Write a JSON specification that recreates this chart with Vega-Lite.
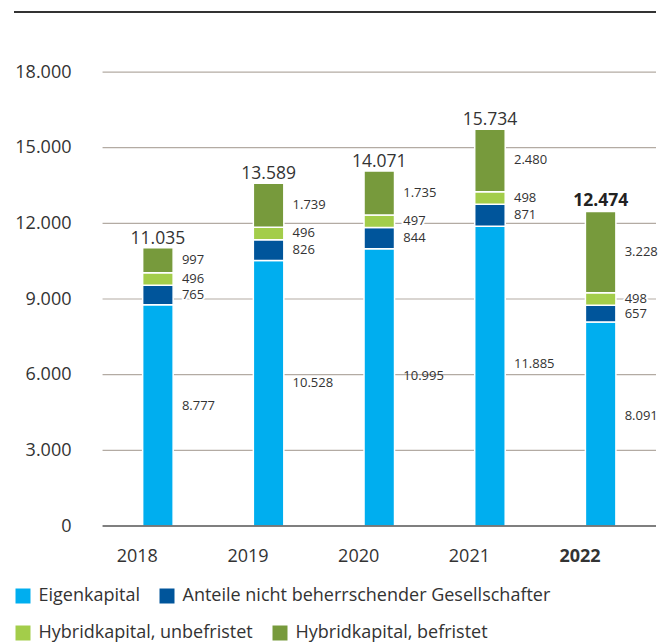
{
  "$schema": "https://vega.github.io/schema/vega-lite/v6.json",
  "width": 642,
  "height": 514,
  "autosize": {"type": "none"},
  "padding": {"left": 14, "top": 12, "right": 12, "bottom": 118},
  "config": {
    "font": "Open Sans",
    "view": {"stroke": null},
    "locale": {"number": {"decimal": ",", "thousands": ".", "grouping": [3], "currency": ["", " €"]}},
    "legend": {
      "orient": "none", "direction": "horizontal", "title": null,
      "symbolType": "square", "symbolSize": 225, "symbolStrokeWidth": 0,
      "labelFontSize": 18, "labelColor": "#333333", "labelOffset": 6.5,
      "columnPadding": 18, "padding": 0, "labelLimit": 600
    }
  },
  "datasets": {
    "capital": [
      {"year": "2018", "cat": "Eigenkapital", "ord": 1, "value": 8777},
      {"year": "2018", "cat": "Anteile nicht beherrschender Gesellschafter", "ord": 2, "value": 765},
      {"year": "2018", "cat": "Hybridkapital, unbefristet", "ord": 3, "value": 496},
      {"year": "2018", "cat": "Hybridkapital, befristet", "ord": 4, "value": 997},
      {"year": "2019", "cat": "Eigenkapital", "ord": 1, "value": 10528},
      {"year": "2019", "cat": "Anteile nicht beherrschender Gesellschafter", "ord": 2, "value": 826},
      {"year": "2019", "cat": "Hybridkapital, unbefristet", "ord": 3, "value": 496},
      {"year": "2019", "cat": "Hybridkapital, befristet", "ord": 4, "value": 1739},
      {"year": "2020", "cat": "Eigenkapital", "ord": 1, "value": 10995},
      {"year": "2020", "cat": "Anteile nicht beherrschender Gesellschafter", "ord": 2, "value": 844},
      {"year": "2020", "cat": "Hybridkapital, unbefristet", "ord": 3, "value": 497},
      {"year": "2020", "cat": "Hybridkapital, befristet", "ord": 4, "value": 1735},
      {"year": "2021", "cat": "Eigenkapital", "ord": 1, "value": 11885},
      {"year": "2021", "cat": "Anteile nicht beherrschender Gesellschafter", "ord": 2, "value": 871},
      {"year": "2021", "cat": "Hybridkapital, unbefristet", "ord": 3, "value": 498},
      {"year": "2021", "cat": "Hybridkapital, befristet", "ord": 4, "value": 2480},
      {"year": "2022", "cat": "Eigenkapital", "ord": 1, "value": 8091},
      {"year": "2022", "cat": "Anteile nicht beherrschender Gesellschafter", "ord": 2, "value": 657},
      {"year": "2022", "cat": "Hybridkapital, unbefristet", "ord": 3, "value": 498},
      {"year": "2022", "cat": "Hybridkapital, befristet", "ord": 4, "value": 3228}
    ],
    "grid": [
      {"v": 0}, {"v": 3000}, {"v": 6000}, {"v": 9000}, {"v": 12000}, {"v": 15000}, {"v": 18000}
    ]
  },
  "layer": [
    {
      "data": {"name": "grid"},
      "transform": [{"filter": "datum.v > 0"}],
      "mark": {"type": "rule", "color": "#b3aba3", "strokeWidth": 1.2},
      "encoding": {
        "y": {
          "field": "v", "type": "quantitative",
          "scale": {"domain": [0, 20380], "nice": false, "zero": true},
          "axis": {
            "values": [0, 3000, 6000, 9000, 12000, 15000, 18000],
            "format": ",d", "grid": false, "domain": false, "ticks": false,
            "labelPadding": 0, "offset": -57, "labelFontSize": 18,
            "labelColor": "#333333", "title": null
          }
        },
        "x": {"datum": "2018", "type": "nominal", "bandPosition": 0},
        "x2": {"datum": "2022", "bandPosition": 1}
      }
    },
    {
      "data": {"values": [{}]},
      "mark": {"type": "rule", "color": "#333333", "strokeWidth": 2},
      "encoding": {"y": {"datum": 20380, "type": "quantitative"}}
    },
    {
      "data": {"name": "capital"},
      "transform": [
        {"stack": "value", "groupby": ["year"], "sort": [{"field": "ord", "order": "ascending"}], "as": ["y0", "y1"]},
        {"filter": "datum.ord <= 2"}
      ],
      "mark": {"type": "bar", "size": 30.5, "stroke": "white", "strokeWidth": 1.5},
      "encoding": {
        "x": {
          "field": "year", "type": "nominal", "sort": null,
          "scale": {"paddingInner": 0, "paddingOuter": 0.4, "align": 1},
          "axis": {
            "title": null, "domain": false, "ticks": false, "labelPadding": 30,
            "labelFontSize": 18, "labelColor": "#333333", "labelAngle": 0,
            "labelFontWeight": {"condition": {"test": "datum.value === '2022'", "value": "bold"}, "value": "normal"}
          }
        },
        "y": {"field": "y0", "type": "quantitative"},
        "y2": {"field": "y1"},
        "color": {
          "field": "cat", "type": "nominal",
          "scale": {
            "domain": ["Eigenkapital", "Anteile nicht beherrschender Gesellschafter"],
            "range": ["#00aeef", "#00559b"]
          },
          "legend": {"legendX": 0, "legendY": 575}
        }
      }
    },
    {
      "data": {"name": "capital"},
      "transform": [
        {"stack": "value", "groupby": ["year"], "sort": [{"field": "ord", "order": "ascending"}], "as": ["y0", "y1"]},
        {"filter": "datum.ord >= 3"}
      ],
      "mark": {"type": "bar", "size": 30.5, "stroke": "white", "strokeWidth": 1.5},
      "encoding": {
        "x": {"field": "year", "type": "nominal", "sort": null},
        "y": {"field": "y0", "type": "quantitative"},
        "y2": {"field": "y1"},
        "fill": {
          "field": "cat", "type": "nominal",
          "scale": {
            "domain": ["Hybridkapital, unbefristet", "Hybridkapital, befristet"],
            "range": ["#a3cd4a", "#779a3c"]
          },
          "legend": {"legendX": 0, "legendY": 612}
        }
      }
    },
    {
      "data": {"name": "grid"},
      "transform": [{"filter": "datum.v == 0"}],
      "mark": {"type": "rule", "color": "#555555", "strokeWidth": 1.5},
      "encoding": {
        "y": {"field": "v", "type": "quantitative"},
        "x": {"datum": "2018", "type": "nominal", "bandPosition": 0},
        "x2": {"datum": "2022", "bandPosition": 1}
      }
    },
    {
      "data": {"name": "capital"},
      "mark": {"type": "text", "align": "left", "baseline": "middle", "dx": 24, "fontSize": 13, "fill": "white", "stroke": "white", "strokeWidth": 4, "strokeJoin": "round"},
      "encoding": {
        "x": {"field": "year", "type": "nominal"},
        "y": {"field": "value", "type": "quantitative", "stack": "zero", "bandPosition": 0.5},
        "detail": {"field": "cat"},
        "order": {"field": "ord", "type": "quantitative"},
        "text": {"condition": {"test": "datum.cat === 'Eigenkapital'", "value": ""}, "field": "value", "type": "quantitative", "format": ",d"}
      }
    },
    {
      "data": {"name": "capital"},
      "mark": {"type": "text", "align": "left", "baseline": "middle", "dx": 24, "fontSize": 13, "color": "#333333"},
      "encoding": {
        "x": {"field": "year", "type": "nominal"},
        "y": {"field": "value", "type": "quantitative", "stack": "zero", "bandPosition": 0.5},
        "detail": {"field": "cat"},
        "order": {"field": "ord", "type": "quantitative"},
        "text": {"condition": {"test": "datum.cat === 'Eigenkapital'", "value": ""}, "field": "value", "type": "quantitative", "format": ",d"}
      }
    },
    {
      "data": {"name": "capital"},
      "transform": [{"filter": "datum.cat === 'Eigenkapital'"}],
      "mark": {"type": "text", "align": "left", "baseline": "middle", "dx": 24, "fontSize": 13, "color": "#333333"},
      "encoding": {
        "x": {"field": "year", "type": "nominal"},
        "y": {"field": "value", "type": "quantitative", "stack": "zero", "bandPosition": 0.54},
        "text": {"field": "value", "type": "quantitative", "format": ",d"}
      }
    },
    {
      "data": {"name": "capital"},
      "transform": [{"filter": "datum.year !== '2022'"}],
      "mark": {"type": "text", "align": "center", "baseline": "alphabetic", "dy": -4, "fontSize": 17.5, "color": "#333333"},
      "encoding": {
        "x": {"field": "year", "type": "nominal"},
        "y": {"aggregate": "sum", "field": "value", "type": "quantitative"},
        "text": {"aggregate": "sum", "field": "value", "type": "quantitative", "format": ",d"}
      }
    },
    {
      "data": {"name": "capital"},
      "transform": [{"filter": "datum.year === '2022'"}],
      "mark": {"type": "text", "align": "center", "baseline": "alphabetic", "dy": -5, "fontSize": 17.5, "fontWeight": "bold", "color": "#222222"},
      "encoding": {
        "x": {"field": "year", "type": "nominal"},
        "y": {"aggregate": "sum", "field": "value", "type": "quantitative"},
        "text": {"aggregate": "sum", "field": "value", "type": "quantitative", "format": ",d"}
      }
    }
  ]
}
